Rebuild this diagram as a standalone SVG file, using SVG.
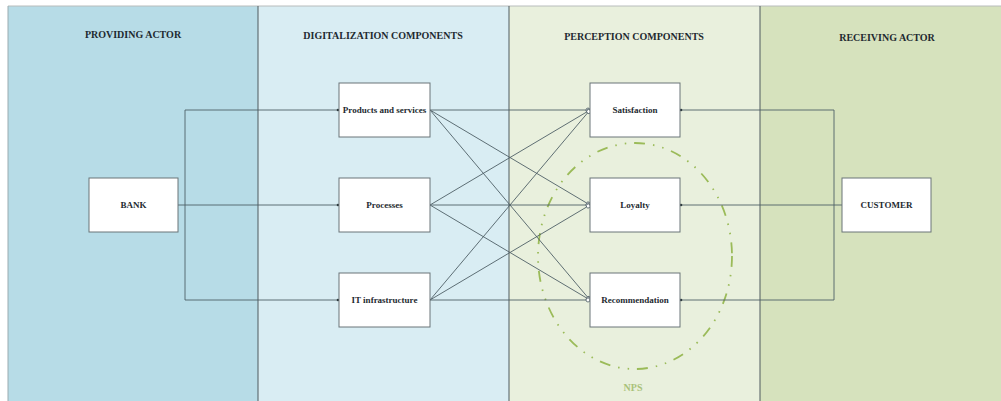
<svg xmlns="http://www.w3.org/2000/svg" width="1001" height="401" viewBox="0 0 1001 401">
<defs>
<style>
.title{font-family:"Liberation Serif",serif;font-weight:bold;font-size:10px;fill:#1e2a30;text-anchor:middle}
.lbl{font-family:"Liberation Serif",serif;font-weight:bold;font-size:9px;fill:#1e2a30;text-anchor:middle}
.box{fill:#ffffff;stroke:#6a7478;stroke-width:1}
.lane-line{stroke:#4f5b5e;stroke-width:1}
.conn{fill:none;stroke:#4f6066;stroke-width:0.9}
</style>
<marker id="dot" viewBox="0 0 4 4" refX="3" refY="2" markerWidth="4" markerHeight="4" markerUnits="userSpaceOnUse" orient="auto">
<circle cx="2" cy="2" r="1.3" fill="#2e3a3e"/>
</marker>
<marker id="ring" viewBox="0 0 6 6" refX="5" refY="3" markerWidth="6" markerHeight="6" markerUnits="userSpaceOnUse" orient="auto">
<circle cx="3" cy="3" r="2" fill="#ffffff" stroke="#4f6066" stroke-width="0.8"/>
</marker>
</defs>
<rect x="0" y="0" width="1001" height="401" fill="#ffffff"/>
<g id="lanes">
<rect x="8" y="6" width="250" height="395" fill="#b7dce7"/>
<rect x="258" y="6" width="251" height="395" fill="#d9edf3"/>
<rect x="509" y="6" width="251" height="395" fill="#e9f0dd"/>
<rect x="760" y="6" width="241" height="395" fill="#d6e2bd"/>
<line x1="8" y1="6" x2="1001" y2="6" stroke="#b8bcbc" stroke-width="1"/>
<line x1="8" y1="6" x2="8" y2="401" stroke="#9aabb0" stroke-width="1"/>
<line class="lane-line" x1="258" y1="6" x2="258" y2="401"/>
<line class="lane-line" x1="509" y1="6" x2="509" y2="401"/>
<line class="lane-line" x1="760" y1="6" x2="760" y2="401"/>
<text class="title" x="133" y="38">PROVIDING ACTOR</text>
<text class="title" x="383" y="39">DIGITALIZATION COMPONENTS</text>
<text class="title" x="634" y="40">PERCEPTION COMPONENTS</text>
<text class="title" x="887" y="41">RECEIVING ACTOR</text>
</g>
<g id="nps">
<ellipse cx="635" cy="256" rx="97" ry="113" fill="none" stroke="#9bbb59" stroke-width="1.8" stroke-dasharray="11 8 1.5 8 1.5 8"/>
<text x="633" y="391" font-family="Liberation Serif, serif" font-weight="bold" font-size="10" fill="#a9c27a" text-anchor="middle">NPS</text>
</g>
<g id="connectors">
<path class="conn" d="M178 205 H339" marker-end="url(#dot)"/>
<path class="conn" d="M185 205 V110 H339" marker-end="url(#dot)"/>
<path class="conn" d="M185 205 V300 H339" marker-end="url(#dot)"/>
<path class="conn" d="M842 205 H680" marker-end="url(#dot)"/>
<path class="conn" d="M834 205 V110 H680" marker-end="url(#dot)"/>
<path class="conn" d="M834 205 V300 H680" marker-end="url(#dot)"/>
<path class="conn" d="M430 110 L590 110" marker-end="url(#ring)"/>
<path class="conn" d="M430 110 L590 205" marker-end="url(#ring)"/>
<path class="conn" d="M430 110 L590 300" marker-end="url(#ring)"/>
<path class="conn" d="M430 205 L590 110" marker-end="url(#ring)"/>
<path class="conn" d="M430 205 L590 205" marker-end="url(#ring)"/>
<path class="conn" d="M430 205 L590 300" marker-end="url(#ring)"/>
<path class="conn" d="M430 300 L590 110" marker-end="url(#ring)"/>
<path class="conn" d="M430 300 L590 205" marker-end="url(#ring)"/>
<path class="conn" d="M430 300 L590 300" marker-end="url(#ring)"/>
</g>
<g id="bank"><rect class="box" x="89" y="178" width="89" height="54"/><text class="lbl" x="133.5" y="208">BANK</text></g>
<g id="products"><rect class="box" x="339" y="83" width="91" height="54"/><text class="lbl" x="384.5" y="113">Products and services</text></g>
<g id="processes"><rect class="box" x="339" y="178" width="91" height="54"/><text class="lbl" x="384.5" y="208">Processes</text></g>
<g id="it"><rect class="box" x="339" y="273" width="91" height="54"/><text class="lbl" x="384.5" y="303">IT infrastructure</text></g>
<g id="satisfaction"><rect class="box" x="590" y="83" width="90" height="54"/><text class="lbl" x="635" y="113">Satisfaction</text></g>
<g id="loyalty"><rect class="box" x="590" y="178" width="90" height="54"/><text class="lbl" x="635" y="208">Loyalty</text></g>
<g id="recommendation"><rect class="box" x="590" y="273" width="90" height="54"/><text class="lbl" x="635" y="303">Recommendation</text></g>
<g id="customer"><rect class="box" x="842" y="178" width="89" height="54"/><text class="lbl" x="886.5" y="208">CUSTOMER</text></g>
</svg>
